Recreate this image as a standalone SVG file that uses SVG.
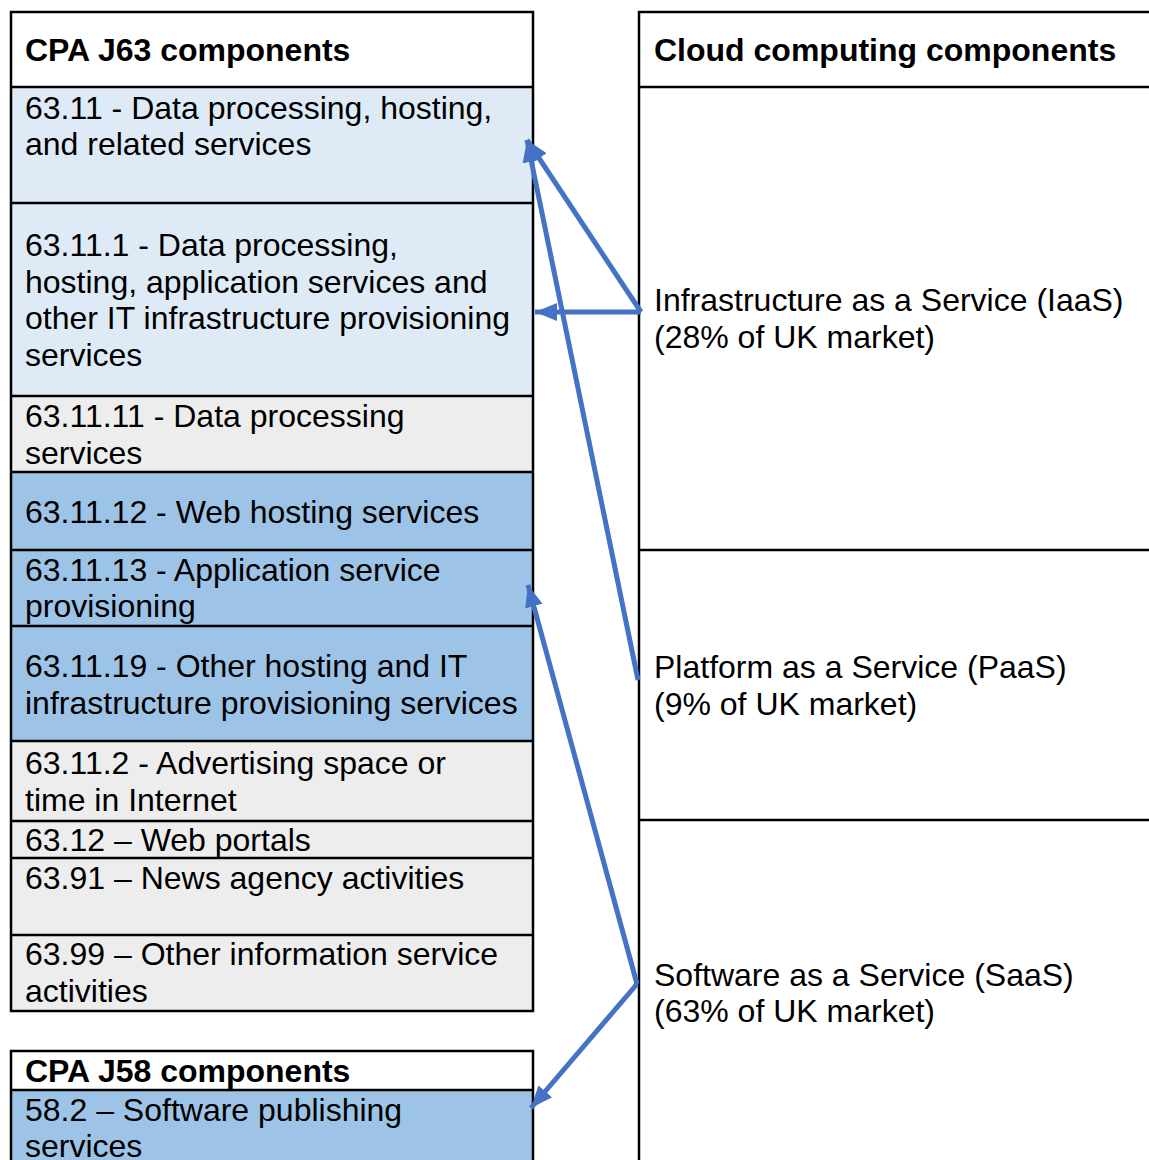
<svg xmlns="http://www.w3.org/2000/svg" width="1149" height="1160" viewBox="0 0 1149 1160">
<style>
.t{font-family:"Liberation Sans",Arial,sans-serif;font-size:32px;fill:#000}
.b{font-weight:bold}
.ln{stroke:#000;stroke-width:2.5;fill:none}
.pale{fill:#DEEAF6}
.gray{fill:#EDEDED}
.blue{fill:#9DC3E6}
.white{fill:#FFFFFF}
.conn{stroke:#4472C4;stroke-width:5;fill:none;marker-end:url(#ah)}
</style>
<defs>
<marker id="ah" markerUnits="userSpaceOnUse" markerWidth="24" markerHeight="20" viewBox="0 0 24 20" refX="22" refY="10" orient="auto">
<path d="M0,1 L22,10 L0,19 Z" fill="#4472C4"/>
</marker>
</defs>
<rect width="1149" height="1160" fill="#FFFFFF"/>

<g id="j63-table">
<rect class="white" x="11" y="12" width="522" height="75"/>
<rect class="pale" x="11" y="87" width="522" height="309"/>
<rect class="gray" x="11" y="396" width="522" height="76"/>
<rect class="blue" x="11" y="472" width="522" height="269"/>
<rect class="gray" x="11" y="741" width="522" height="270"/>
<rect class="ln" x="11" y="12" width="522" height="999"/>
<path class="ln" d="M11,87H533M11,203H533M11,396H533M11,472H533M11,550H533M11,626H533M11,741H533M11,821H533M11,858H533M11,935H533"/>
</g>
<g id="j63-header"><text class="t b" x="25" y="61">CPA J63 components</text></g>
<g id="n6311"><text class="t" x="25" y="119">63.11 - Data processing, hosting,</text><text class="t" x="25" y="155">and related services</text></g>
<g id="n63111"><text class="t" x="25" y="256">63.11.1 - Data processing,</text><text class="t" x="25" y="293">hosting, application services and</text><text class="t" x="25" y="329">other IT infrastructure provisioning</text><text class="t" x="25" y="366">services</text></g>
<g id="n631111"><text class="t" x="25" y="427">63.11.11 - Data processing</text><text class="t" x="25" y="464">services</text></g>
<g id="n631112"><text class="t" x="25" y="523">63.11.12 - Web hosting services</text></g>
<g id="n631113"><text class="t" x="25" y="581">63.11.13 - Application service</text><text class="t" x="25" y="617">provisioning</text></g>
<g id="n631119"><text class="t" x="25" y="677">63.11.19 - Other hosting and IT</text><text class="t" x="25" y="714">infrastructure provisioning services</text></g>
<g id="n63112"><text class="t" x="25" y="774">63.11.2 - Advertising space or</text><text class="t" x="25" y="811">time in Internet</text></g>
<g id="n6312"><text class="t" x="25" y="851">63.12 – Web portals</text></g>
<g id="n6391"><text class="t" x="25" y="889">63.91 – News agency activities</text></g>
<g id="n6399"><text class="t" x="25" y="965">63.99 – Other information service</text><text class="t" x="25" y="1002">activities</text></g>

<g id="j58-table">
<rect class="white" x="11" y="1051" width="522" height="39"/>
<rect class="blue" x="11" y="1090" width="522" height="75"/>
<path class="ln" d="M11,1165V1051H533V1165M11,1090H533"/>
</g>
<g id="j58-header"><text class="t b" x="25" y="1082">CPA J58 components</text></g>
<g id="n582"><text class="t" x="25" y="1121">58.2 – Software publishing</text><text class="t" x="25" y="1157">services</text></g>

<g id="cloud-table">
<path class="ln" d="M639,1165V12H1152M639,87H1152M639,550H1152M639,820H1152"/>
</g>
<g id="cloud-header"><text class="t b" x="654" y="61">Cloud computing components</text></g>
<g id="iaas"><text class="t" x="654" y="311">Infrastructure as a Service (IaaS)</text><text class="t" x="654" y="348">(28% of UK market)</text></g>
<g id="paas"><text class="t" x="654" y="678">Platform as a Service (PaaS)</text><text class="t" x="654" y="715">(9% of UK market)</text></g>
<g id="saas"><text class="t" x="654" y="986">Software as a Service (SaaS)</text><text class="t" x="654" y="1022">(63% of UK market)</text></g>

<g id="connectors">
<line class="conn" x1="641" y1="312" x2="527" y2="140"/>
<line class="conn" x1="641" y1="312" x2="535" y2="312"/>
<line class="conn" x1="638" y1="680" x2="527" y2="140"/>
<line class="conn" x1="637" y1="984" x2="528" y2="585"/>
<line class="conn" x1="637" y1="984" x2="531" y2="1108"/>
</g>
</svg>
